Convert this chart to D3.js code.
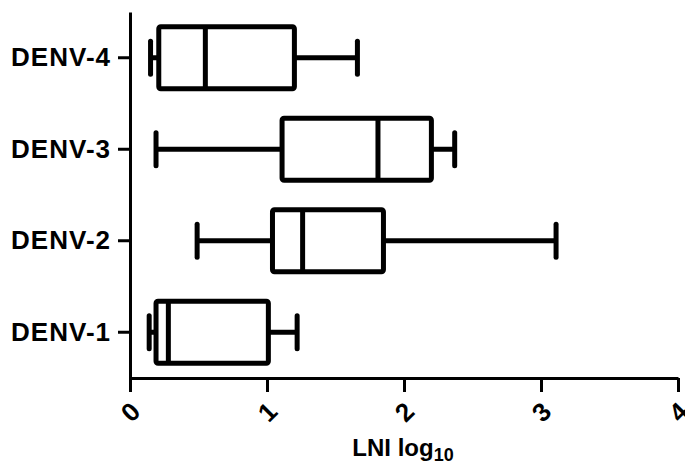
<!DOCTYPE html>
<html>
<head>
<meta charset="utf-8">
<script src="https://d3js.org/d3.v7.min.js"></script>
<style>
  body { margin: 0; background: #fff; }
  text { font-family: "Liberation Sans", Arial, sans-serif; font-weight: bold; fill: #000; }
</style>
</head>
<body>
<svg id="chart" width="685" height="466"></svg>
<script>
// categories, top to bottom
var groups = ["DENV-4", "DENV-3", "DENV-2", "DENV-1"];
var mins    = [0.15, 0.19, 0.49, 0.14];
var q1s     = [0.21, 1.11, 1.04, 0.19];
var medians = [0.55, 1.81, 1.26, 0.28];
var q3s     = [1.20, 2.20, 1.85, 1.01];
var maxs    = [1.66, 2.37, 3.11, 1.22];
var xTicks  = [0, 1, 2, 3, 4];

var data = groups.map(function(g, i) {
  return { name: g, min: mins[i], q1: q1s[i], med: medians[i], q3: q3s[i], max: maxs[i] };
});

var svg = d3.select("#chart");
var plotLeft = 130, plotRight = 678, plotTop = 12, plotBottom = 378;

var x = d3.scaleLinear().domain([0, 4]).range([plotLeft, plotRight]);
var y = d3.scaleBand().domain(groups).range([plotTop, plotBottom]);

var boxH = 62, capH = 33, lw = 5;

var g = svg.selectAll(".box").data(data).enter().append("g")
  .attr("class", "box")
  .attr("transform", function(d) { return "translate(0," + (y(d.name) + y.bandwidth() / 2) + ")"; });

// whiskers
g.append("line")
  .attr("x1", function(d) { return x(d.min); })
  .attr("x2", function(d) { return x(d.q1); })
  .attr("stroke", "#000").attr("stroke-width", lw);
g.append("line")
  .attr("x1", function(d) { return x(d.q3); })
  .attr("x2", function(d) { return x(d.max); })
  .attr("stroke", "#000").attr("stroke-width", lw);
// caps
g.append("line")
  .attr("x1", function(d) { return x(d.min); }).attr("x2", function(d) { return x(d.min); })
  .attr("y1", -capH / 2).attr("y2", capH / 2)
  .attr("stroke", "#000").attr("stroke-width", lw).attr("stroke-linecap", "round");
g.append("line")
  .attr("x1", function(d) { return x(d.max); }).attr("x2", function(d) { return x(d.max); })
  .attr("y1", -capH / 2).attr("y2", capH / 2)
  .attr("stroke", "#000").attr("stroke-width", lw).attr("stroke-linecap", "round");
// box
g.append("rect")
  .attr("x", function(d) { return x(d.q1); })
  .attr("width", function(d) { return x(d.q3) - x(d.q1); })
  .attr("y", -boxH / 2).attr("height", boxH)
  .attr("rx", 2)
  .attr("fill", "#fff").attr("stroke", "#000").attr("stroke-width", lw);
// median
g.append("line")
  .attr("x1", function(d) { return x(d.med); }).attr("x2", function(d) { return x(d.med); })
  .attr("y1", -boxH / 2).attr("y2", boxH / 2)
  .attr("stroke", "#000").attr("stroke-width", lw);

// x axis
var xAxis = svg.append("g").attr("transform", "translate(0," + plotBottom + ")")
  .call(d3.axisBottom(x).tickValues(xTicks).tickSize(14).tickSizeOuter(0).tickFormat(d3.format("d")));
xAxis.select(".domain").attr("stroke-width", 3);
xAxis.selectAll(".tick line").attr("stroke-width", 3);
xAxis.selectAll(".tick text")
  .attr("y", 0).attr("dy", 0)
  .attr("font-size", 26)
  .attr("text-anchor", "middle")
  .attr("dominant-baseline", "central")
  .attr("transform", "translate(0,34) rotate(-45)");

// y axis
var yAxis = svg.append("g").attr("transform", "translate(" + plotLeft + ",0)")
  .call(d3.axisLeft(y).tickSize(12).tickSizeOuter(0));
yAxis.select(".domain").attr("stroke-width", 3);
yAxis.selectAll(".tick line").attr("stroke-width", 3);
yAxis.selectAll(".tick text")
  .attr("x", -19)
  .attr("font-size", 26)
  .attr("letter-spacing", 1);

// axis title
var title = svg.append("text")
  .attr("x", 403).attr("y", 456)
  .attr("text-anchor", "middle")
  .attr("font-size", 24);
title.append("tspan").text("LNI log");
title.append("tspan").attr("font-size", 18).attr("dy", 5).text("10");
</script>
</body>
</html>
